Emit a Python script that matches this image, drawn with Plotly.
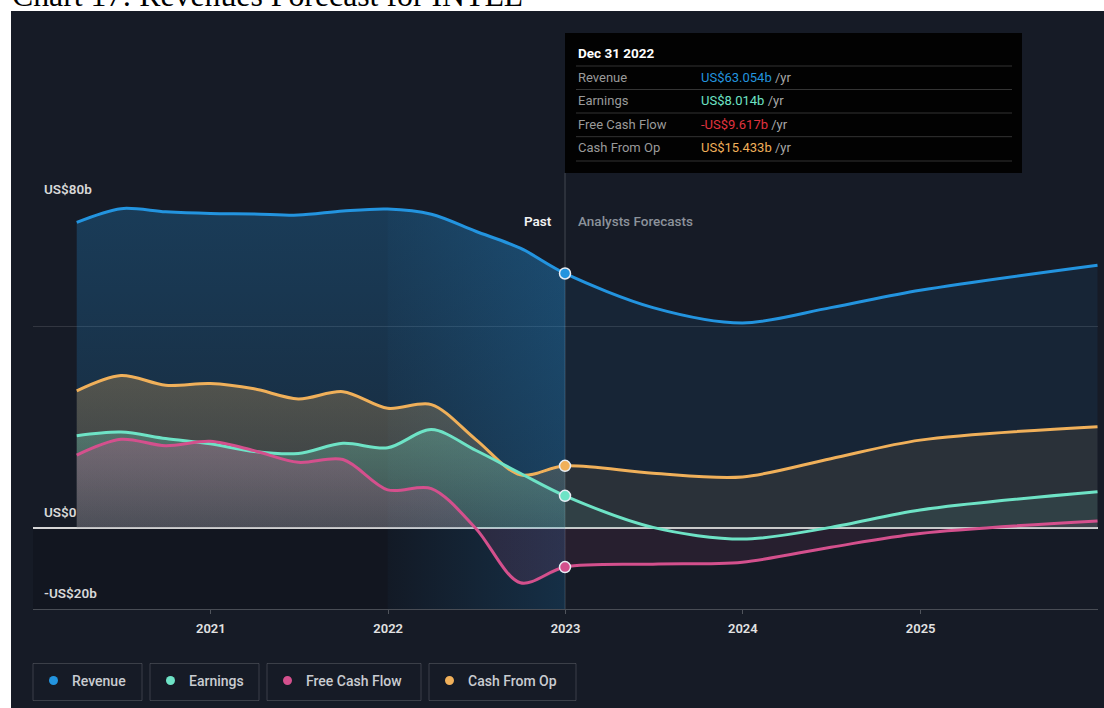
import plotly.graph_objects as go
import pandas as pd

# ---------------- data (US$ billions) ----------------
past_dates = ['2020-03-31', '2020-06-30', '2020-09-30', '2020-12-31',
              '2021-03-31', '2021-06-30', '2021-09-30', '2021-12-31',
              '2022-03-31', '2022-06-30', '2022-09-30', '2022-12-31']
fc_dates = ['2023-06-30', '2023-12-31', '2024-06-30', '2024-12-31', '2025-12-31']

revenue_past = [75.7, 79.1, 78.3, 77.9, 77.8, 77.5, 78.5, 79.0, 77.7, 73.5, 69.3, 63.054]
revenue_fc = [54.6, 50.8, 54.6, 58.9, 65.1]

earnings_past = [22.9, 23.8, 22.2, 20.9, 19.0, 18.5, 21.0, 19.9, 24.4, 19.3, 13.6, 8.014]
earnings_fc = [0.2, -2.7, 0.2, 4.5, 9.0]

fcf_past = [18.1, 22.0, 20.4, 21.5, 19.2, 16.3, 17.0, 9.5, 9.8, 0.0, -13.5, -9.617]
fcf_fc = [-8.9, -8.4, -4.7, -1.3, 1.8]

cfo_past = [34.0, 37.8, 35.4, 35.8, 34.5, 32.0, 33.8, 29.7, 30.6, 22.0, 13.2, 15.433]
cfo_fc = [13.6, 12.7, 17.2, 21.8, 25.1]

series_names = ['Revenue', 'Earnings', 'Free Cash Flow', 'Cash From Op']
x_tick_vals = ['2021-01-01', '2022-01-01', '2023-01-01', '2024-01-01', '2025-01-01']
x_tick_text = ['2021', '2022', '2023', '2024', '2025']
y_labels = {80: 'US$80b', 0: 'US$0', -20: '-US$20b'}
title_text = 'Chart 17: Revenues Forecast for INTEL'
tooltip_date = 'Dec 31 2022'
x_range = ['2020-01-01', '2026-01-01']
y_range = [-20, 80]

# ---------------- styling ----------------
C_REV = '#2394df'
C_EARN = '#6ee3c6'
C_FCF = '#d4508d'
C_CFO = '#f0b05a'
C_FCF_TXT = '#e0333f'
BG = '#161b26'
FONT = 'Roboto'

W, H = 1104, 708
ML, MR, MT, MB = 33, 6, 205, 99
PW = W - ML - MR
PH = H - MT - MB


def px(p):
    return (p - ML) / PW


def py(p):
    return (H - MB - p) / PH


def rgba(hexc, a):
    h = hexc.lstrip('#')
    r, g, b = int(h[0:2], 16), int(h[2:4], 16), int(h[4:6], 16)
    return f'rgba({r},{g},{b},{a})'


def ms(d):
    return pd.Timestamp(d).value // 10 ** 6


fig = go.Figure()

# past highlight: last year before the present, under the revenue curve
hl_dates = past_dates[7:]
hl_rev = revenue_past[7:]
fig.add_trace(go.Scatter(
    x=hl_dates, y=[y_range[0]] * len(hl_dates), mode='lines', line=dict(width=0),
    hoverinfo='skip', showlegend=False))
fig.add_trace(go.Scatter(
    x=hl_dates, y=hl_rev, mode='lines',
    line=dict(width=0, shape='spline', smoothing=0.9),
    fill='tonexty',
    fillgradient=dict(type='horizontal', start=ms(hl_dates[0]), stop=ms(hl_dates[-1]),
                      colorscale=[[0, rgba(C_REV, 0.03)], [1, rgba(C_REV, 0.2)]]),
    hoverinfo='skip', showlegend=False))

series = [
    (revenue_past, revenue_fc, C_REV),
    (cfo_past, cfo_fc, C_CFO),
    (earnings_past, earnings_fc, C_EARN),
    (fcf_past, fcf_fc, C_FCF),
]

SM = 0.9
# past fills
for past, fc, col in series:
    fig.add_trace(go.Scatter(
        x=past_dates, y=past, mode='lines',
        line=dict(width=0, shape='spline', smoothing=SM),
        fill='tozeroy',
        fillgradient=dict(type='vertical', start=0, stop=max(max(past), 1),
                          colorscale=[[0, rgba(col, 0.12)], [1, rgba(col, 0.27)]]),
        hoverinfo='skip', showlegend=False))
# forecast fills
for past, fc, col in series:
    fig.add_trace(go.Scatter(
        x=[past_dates[-1]] + fc_dates, y=[past[-1]] + fc, mode='lines',
        line=dict(width=0, shape='spline', smoothing=SM),
        fill='tozeroy', fillcolor=rgba(col, 0.09),
        hoverinfo='skip', showlegend=False))
# lines
for past, fc, col in series:
    fig.add_trace(go.Scatter(
        x=past_dates + fc_dates, y=past + fc, mode='lines',
        line=dict(width=3, color=col, shape='spline', smoothing=SM),
        hoverinfo='skip', showlegend=False))
# markers at present
for past, fc, col in series:
    fig.add_trace(go.Scatter(
        x=[past_dates[-1]], y=[past[-1]], mode='markers',
        marker=dict(size=11, color=col, line=dict(color='#e8eef5', width=1.5)),
        hoverinfo='skip', showlegend=False))

shapes = []
annotations = []

# dark panel
shapes.append(dict(type='rect', xref='paper', yref='paper', layer='below',
                   x0=px(11), x1=px(W + 5), y0=py(H + 5), y1=py(11),
                   fillcolor=BG, line=dict(width=0)))

# darker past background below zero
shapes.append(dict(type='rect', xref='x', yref='y', layer='below',
                   x0=x_range[0], x1=past_dates[-1], y0=y_range[0], y1=0,
                   fillcolor='rgba(0,0,0,0.15)', line=dict(width=0)))

# hover crosshair line
shapes.append(dict(type='line', xref='x', yref='paper', layer='below',
                   x0=past_dates[-1], x1=past_dates[-1], y0=0, y1=py(173),
                   line=dict(color='rgba(255,255,255,0.13)', width=1.5)))

# tooltip box
shapes.append(dict(type='rect', xref='paper', yref='paper', layer='above',
                   x0=px(565), x1=px(1022), y0=py(173), y1=py(33),
                   fillcolor='#020202', line=dict(width=0)))
for yy in [66, 89.5, 113, 136.7, 161]:
    shapes.append(dict(type='line', xref='paper', yref='paper', layer='above',
                       x0=px(576), x1=px(1012), y0=py(yy), y1=py(yy),
                       line=dict(color='rgba(255,255,255,0.2)', width=1)))
annotations.append(dict(xref='paper', yref='paper', x=px(576), y=py(53),
                        xanchor='left', yanchor='middle', showarrow=False,
                        text=tooltip_date,
                        font=dict(family=FONT, size=13.5, color='#ffffff', weight=700)))


def fmt(v):
    return ('-' if v < 0 else '') + f'US${abs(v):.3f}b'


tip_vals = [revenue_past[-1], earnings_past[-1], fcf_past[-1], cfo_past[-1]]
tip_cols = [C_REV, C_EARN, C_FCF_TXT, C_CFO]
for name, v, col, yy in zip(series_names, tip_vals, tip_cols, [77.5, 100.7, 124.5, 147.3]):
    annotations.append(dict(xref='paper', yref='paper', x=px(576), y=py(yy),
                            xanchor='left', yanchor='middle', showarrow=False,
                            text=name, font=dict(family=FONT, size=13, color='#9a9a9a')))
    annotations.append(dict(xref='paper', yref='paper', x=px(699), y=py(yy),
                            xanchor='left', yanchor='middle', showarrow=False,
                            text=f"<span style='color:{col}'>{fmt(v)}</span> /yr",
                            font=dict(family=FONT, size=13, color='#a8a8a8')))

# Past / Analysts Forecasts
annotations.append(dict(xref='paper', yref='paper', x=px(554), y=py(221),
                        xanchor='right', yanchor='middle', showarrow=False,
                        text='Past', font=dict(family=FONT, size=13.5, color='#f2f2f2', weight=600)))
annotations.append(dict(xref='paper', yref='paper', x=px(576), y=py(221),
                        xanchor='left', yanchor='middle', showarrow=False,
                        text='Analysts Forecasts',
                        font=dict(family=FONT, size=13.5, color='#8c929b', weight=500)))

# y labels
for val, lab in y_labels.items():
    annotations.append(dict(xref='paper', yref='y', x=px(42), y=val,
                            xanchor='left', yanchor='bottom', yshift=6, showarrow=False,
                            text=lab,
                            font=dict(family=FONT, size=13.5, color='#d8d8d8', weight=600)))

# custom legend
legend_boxes = [(33, 142), (150, 259), (267, 421), (429, 576)]
legend_cols = [C_REV, C_EARN, C_FCF, C_CFO]
for (x0, x1), name, col in zip(legend_boxes, series_names, legend_cols):
    shapes.append(dict(type='rect', xref='paper', yref='paper', layer='above',
                       x0=px(x0), x1=px(x1), y0=py(700.5), y1=py(663.5),
                       fillcolor='rgba(0,0,0,0)',
                       line=dict(color='rgba(255,255,255,0.16)', width=1)))
    shapes.append(dict(type='circle', xref='paper', yref='paper', layer='above',
                       x0=px(x0 + 16), x1=px(x0 + 25), y0=py(685), y1=py(676),
                       fillcolor=col, line=dict(width=0)))
    annotations.append(dict(xref='paper', yref='paper', x=px(x0 + 37), y=py(681),
                            xanchor='left', yanchor='middle', showarrow=False,
                            text=name,
                            font=dict(family=FONT, size=14, color='#c9ccd1', weight=500)))

# page title, cut off at the top edge as in the reference screenshot
annotations.append(dict(xref='paper', yref='paper', x=px(10), y=py(15),
                        xanchor='left', yanchor='bottom', showarrow=False,
                        text=title_text,
                        font=dict(family='Liberation Serif', size=31.8, color='#000000')))

fig.update_layout(
    width=W, height=H,
    margin=dict(l=ML, r=MR, t=MT, b=MB, pad=0),
    paper_bgcolor='#ffffff', plot_bgcolor='rgba(0,0,0,0)',
    showlegend=False,
    shapes=shapes, annotations=annotations,
    xaxis=dict(type='date', range=x_range,
               tickvals=x_tick_vals, ticktext=x_tick_text,
               showgrid=False, zeroline=False,
               showline=True, linecolor='rgba(255,255,255,0.22)', linewidth=1,
               ticks='outside', ticklen=4, tickcolor='rgba(255,255,255,0.25)',
               ticklabelstandoff=3,
               tickfont=dict(family=FONT, size=13, color='#e2e2e2', weight=600),
               fixedrange=True),
    yaxis=dict(range=y_range, tickvals=[-20, 0, 50, 80], showticklabels=False,
               showgrid=True, gridcolor='rgba(255,255,255,0.12)', gridwidth=1,
               zeroline=True, zerolinecolor='#d6d6d6', zerolinewidth=2,
               layer='above traces', fixedrange=True),
)

fig.write_html('out.html',
               config=dict(displayModeBar=False, staticPlot=True),
               post_script="document.body.style.margin='0px';"
                           "document.body.style.overflow='hidden';")
